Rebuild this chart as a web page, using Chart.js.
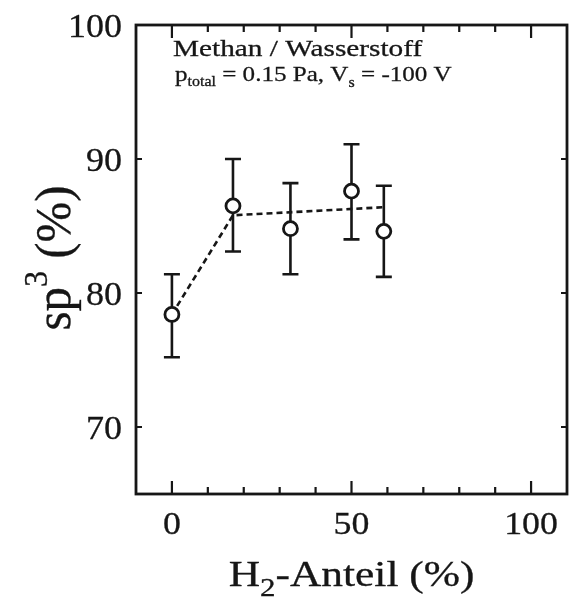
<!DOCTYPE html>
<html>
<head>
<meta charset="utf-8">
<script src="https://cdn.jsdelivr.net/npm/chart.js@4/dist/chart.umd.min.js"></script>
<style>
  html, body { margin: 0; padding: 0; background: #fff; }
  canvas { display: block; }
</style>
</head>
<body>
<canvas id="sp3Chart" width="570" height="608"></canvas>
<script>
// H2 share (%) and measured sp3 fraction (%) with error bars
const h2Share = [0, 17, 33, 50, 59];
const sp3Value = [78.4, 86.5, 84.8, 87.6, 84.6];
const sp3Low = [75.2, 83.1, 81.4, 84.0, 81.2];
const sp3High = [81.4, 90.0, 88.2, 91.1, 88.0];

// dashed guide line
const fitX = [0, 17, 59];
const fitY = [78.4, 85.8, 86.4];

const xTickValues = [0, 50, 100];
const xMinorValues = [10, 20, 30, 40, 60, 70, 80, 90];
const yTickValues = [70, 80, 90, 100];

const ink = '#161616';
const serif = '"Liberation Serif", "Times New Roman", serif';

// draws a run of text pieces (for sub/superscripts), stretched horizontally
function drawRich(ctx, parts, x, y, align, sx) {
    let w = 0;
    parts.forEach(p => {
        ctx.font = p.size + 'px ' + serif;
        p.w = ctx.measureText(p.t).width;
        w += p.w;
    });
    let start = x;
    if (align === 'center') start = x - w * sx / 2;
    if (align === 'right') start = x - w * sx;
    ctx.save();
    ctx.translate(start, y);
    ctx.scale(sx, 1);
    ctx.fillStyle = ink;
    ctx.strokeStyle = ink;
    ctx.lineWidth = 0.3;
    ctx.textBaseline = 'alphabetic';
    ctx.textAlign = 'left';
    let cx = 0;
    parts.forEach(p => {
        ctx.font = p.size + 'px ' + serif;
        ctx.fillText(p.t, cx, p.dy || 0);
        ctx.strokeText(p.t, cx, p.dy || 0);
        cx += p.w;
    });
    ctx.restore();
}

const errorBars = {
    id: 'errorBars',
    beforeDatasetsDraw(chart) {
        const { ctx, scales: { x, y } } = chart;
        ctx.save();
        ctx.strokeStyle = ink;
        ctx.lineWidth = 2.6;
        h2Share.forEach((v, i) => {
            const px = x.getPixelForValue(v);
            const top = y.getPixelForValue(sp3High[i]);
            const bot = y.getPixelForValue(sp3Low[i]);
            ctx.beginPath();
            ctx.moveTo(px, top); ctx.lineTo(px, bot);
            ctx.moveTo(px - 8, top); ctx.lineTo(px + 8, top);
            ctx.moveTo(px - 8, bot); ctx.lineTo(px + 8, bot);
            ctx.stroke();
        });
        ctx.restore();
    }
};

const frameAndLabels = {
    id: 'frameAndLabels',
    afterDraw(chart) {
        const { ctx, chartArea: a, scales: { x, y } } = chart;
        ctx.save();
        ctx.strokeStyle = ink;
        ctx.lineWidth = 2.8;
        ctx.strokeRect(a.left, a.top, a.right - a.left, a.bottom - a.top);

        // inward ticks on all four sides
        ctx.lineWidth = 2.2;
        ctx.beginPath();
        xTickValues.forEach(v => {
            const px = x.getPixelForValue(v);
            ctx.moveTo(px, a.bottom); ctx.lineTo(px, a.bottom - 13);
            ctx.moveTo(px, a.top); ctx.lineTo(px, a.top + 13);
        });
        xMinorValues.forEach(v => {
            const px = x.getPixelForValue(v);
            ctx.moveTo(px, a.bottom); ctx.lineTo(px, a.bottom - 7);
            ctx.moveTo(px, a.top); ctx.lineTo(px, a.top + 7);
        });
        yTickValues.forEach(v => {
            const py = y.getPixelForValue(v);
            ctx.moveTo(a.left, py); ctx.lineTo(a.left + 6, py);
            ctx.moveTo(a.right, py); ctx.lineTo(a.right - 6, py);
        });
        ctx.stroke();

        // tick labels
        x.ticks.forEach(t => {
            drawRich(ctx, [{ t: String(t.value), size: 32 }], x.getPixelForValue(t.value), 534, 'center', 1.12);
        });
        y.ticks.forEach(t => {
            drawRich(ctx, [{ t: String(t.value), size: 34 }], a.left - 14, y.getPixelForValue(t.value) + 12, 'right', 1.06);
        });

        // axis titles
        drawRich(ctx, [
            { t: 'H', size: 35 },
            { t: '2', size: 25, dy: 10 },
            { t: '-Anteil (%)', size: 35 }
        ], x.getPixelForValue(50), 586, 'center', 1.24);

        ctx.save();
        ctx.translate(70, 258);
        ctx.rotate(-Math.PI / 2);
        ctx.scale(1, 1.1);
        drawRich(ctx, [
            { t: 'sp', size: 47 },
            { t: '3', size: 31, dy: -21 },
            { t: ' (%)', size: 47 }
        ], 0, 0, 'center', 1.04);
        ctx.restore();

        // annotation
        drawRich(ctx, [{ t: 'Methan / Wasserstoff', size: 24 }], 173, 56, 'left', 1.22);
        drawRich(ctx, [
            { t: 'p', size: 22 },
            { t: 'total', size: 14, dy: 5 },
            { t: ' = 0.15 Pa, V', size: 22 },
            { t: 's', size: 14, dy: 6 },
            { t: ' = -100 V', size: 22 }
        ], 175, 81, 'left', 1.14);
        ctx.restore();
    }
};

const ctx = document.getElementById('sp3Chart').getContext('2d');
const sp3Chart = new Chart(ctx, {
    type: 'scatter',
    data: {
        datasets: [{
            data: h2Share.map((v, i) => ({ x: v, y: sp3Value[i] })),
            showLine: false,
            pointStyle: 'circle',
            pointRadius: 7,
            pointBorderWidth: 2.8,
            pointBackgroundColor: '#fff',
            pointBorderColor: ink,
            order: 1
        }, {
            type: 'line',
            data: fitX.map((v, i) => ({ x: v, y: fitY[i] })),
            borderColor: ink,
            borderWidth: 2.6,
            borderDash: [6, 4],
            pointRadius: 0,
            fill: false,
            tension: 0,
            order: 2
        }]
    },
    options: {
        responsive: false,
        animation: false,
        layout: { autoPadding: false, padding: { top: 25, right: 3, left: 0, bottom: 0 } },
        plugins: {
            legend: { display: false },
            tooltip: { enabled: false }
        },
        scales: {
            x: {
                type: 'linear',
                min: -10,
                max: 110,
                grid: { display: false, drawTicks: false },
                border: { display: false },
                ticks: { display: false },
                afterBuildTicks: s => { s.ticks = xTickValues.map(v => ({ value: v })); },
                afterFit: s => { s.height = 114; }
            },
            y: {
                type: 'linear',
                min: 65,
                max: 100,
                grid: { display: false, drawTicks: false },
                border: { display: false },
                ticks: { display: false },
                afterBuildTicks: s => { s.ticks = yTickValues.map(v => ({ value: v })); },
                afterFit: s => { s.width = 136; }
            }
        }
    },
    plugins: [errorBars, frameAndLabels]
});
</script>
</body>
</html>
